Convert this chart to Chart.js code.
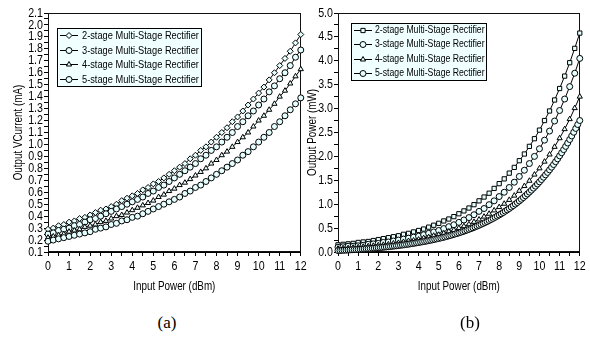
<!DOCTYPE html>
<html>
<head>
<meta charset="utf-8">
<script src="https://cdn.jsdelivr.net/npm/chart.js@4.4.0/dist/chart.umd.min.js"></script>
<style>
  html, body { margin: 0; padding: 0; background: #fff; }
  #page { position: relative; width: 590px; height: 341px; overflow: hidden; }
  canvas { position: absolute; top: 0; }
  #chartA { left: 0; }
  #chartB { left: 295px; }
  .caption {
    position: absolute; top: 313px; width: 60px; text-align: center;
    font-family: 'Liberation Serif', 'Times New Roman', serif; font-size: 17px; line-height: 20px;
  }
</style>
</head>
<body>
<div id="page">
  <canvas id="chartA" width="311" height="300"></canvas>
  <canvas id="chartB" width="295" height="300"></canvas>
  <div class="caption" style="left:137px">(a)</div>
  <div class="caption" style="left:440px">(b)</div>
</div>
<script>
const stageLabels = [
  "2-stage Multi-Stage Rectifier",
  "3-stage Multi-Stage Rectifier",
  "4-stage Multi-Stage Rectifier",
  "5-stage Multi-Stage Rectifier"
];

// input power (dBm)
const powerQuarter = [0,0.25,0.5,0.75,1,1.25,1.5,1.75,2,2.25,2.5,2.75,3,3.25,3.5,3.75,4,4.25,4.5,4.75,5,5.25,5.5,5.75,6,6.25,6.5,6.75,7,7.25,7.5,7.75,8,8.25,8.5,8.75,9,9.25,9.5,9.75,10,10.25,10.5,10.75,11,11.25,11.5,11.75,12];
const powerTenth = [0,0.1,0.2,0.3,0.4,0.5,0.6,0.7,0.8,0.9,1,1.1,1.2,1.3,1.4,1.5,1.6,1.7,1.8,1.9,2,2.1,2.2,2.3,2.4,2.5,2.6,2.7,2.8,2.9,3,3.1,3.2,3.3,3.4,3.5,3.6,3.7,3.8,3.9,4,4.1,4.2,4.3,4.4,4.5,4.6,4.7,4.8,4.9,5,5.1,5.2,5.3,5.4,5.5,5.6,5.7,5.8,5.9,6,6.1,6.2,6.3,6.4,6.5,6.6,6.7,6.8,6.9,7,7.1,7.2,7.3,7.4,7.5,7.6,7.7,7.8,7.9,8,8.1,8.2,8.3,8.4,8.5,8.6,8.7,8.8,8.9,9,9.1,9.2,9.3,9.4,9.5,9.6,9.7,9.8,9.9,10,10.1,10.2,10.3,10.4,10.5,10.6,10.7,10.8,10.9,11,11.1,11.2,11.3,11.4,11.5,11.6,11.7,11.8,11.9,12];

// (a) output current (mA)
const current2 = [0.29,0.30,0.32,0.33,0.35,0.36,0.38,0.39,0.41,0.43,0.45,0.46,0.48,0.50,0.53,0.55,0.57,0.59,0.62,0.64,0.67,0.69,0.72,0.75,0.78,0.81,0.84,0.88,0.91,0.95,0.98,1.02,1.06,1.10,1.14,1.19,1.23,1.28,1.33,1.38,1.43,1.48,1.54,1.60,1.66,1.72,1.78,1.85,1.92];
const current3 = [0.25,0.26,0.28,0.29,0.30,0.32,0.33,0.35,0.37,0.38,0.40,0.42,0.44,0.46,0.48,0.50,0.52,0.54,0.56,0.59,0.61,0.64,0.66,0.69,0.72,0.75,0.78,0.81,0.84,0.88,0.91,0.95,0.98,1.02,1.06,1.10,1.15,1.19,1.24,1.28,1.33,1.38,1.44,1.49,1.55,1.60,1.66,1.73,1.79];
const current4 = [0.22,0.23,0.24,0.25,0.27,0.28,0.29,0.31,0.32,0.33,0.35,0.36,0.38,0.40,0.41,0.43,0.45,0.47,0.49,0.51,0.53,0.56,0.58,0.61,0.63,0.66,0.68,0.71,0.74,0.77,0.80,0.84,0.87,0.91,0.94,0.98,1.02,1.06,1.10,1.15,1.20,1.24,1.29,1.34,1.40,1.45,1.51,1.57,1.63];
const current5 = [0.19,0.20,0.21,0.22,0.23,0.24,0.25,0.26,0.27,0.29,0.30,0.31,0.33,0.34,0.36,0.37,0.39,0.40,0.42,0.44,0.46,0.48,0.50,0.52,0.54,0.56,0.59,0.61,0.64,0.66,0.69,0.72,0.75,0.78,0.81,0.84,0.87,0.91,0.94,0.98,1.02,1.06,1.10,1.15,1.19,1.24,1.29,1.34,1.39];

// (b) output power (mW)
const outPower2 = [0.15,0.16,0.17,0.18,0.20,0.21,0.22,0.24,0.26,0.28,0.30,0.32,0.34,0.37,0.39,0.42,0.45,0.48,0.52,0.56,0.60,0.65,0.69,0.74,0.80,0.86,0.92,0.99,1.07,1.15,1.23,1.33,1.43,1.53,1.65,1.77,1.91,2.05,2.21,2.37,2.55,2.75,2.95,3.18,3.42,3.68,3.96,4.26,4.58];
const outPower3 = [0.10,0.11,0.12,0.12,0.13,0.14,0.16,0.17,0.18,0.20,0.21,0.23,0.25,0.27,0.29,0.31,0.33,0.36,0.39,0.42,0.45,0.49,0.53,0.57,0.62,0.67,0.72,0.78,0.85,0.91,0.99,1.07,1.16,1.25,1.35,1.46,1.58,1.71,1.85,2.00,2.16,2.34,2.53,2.74,2.96,3.20,3.46,3.74,4.05];
const outPower4 = [0.07,0.08,0.08,0.09,0.10,0.11,0.12,0.13,0.14,0.15,0.16,0.18,0.19,0.21,0.23,0.24,0.26,0.29,0.31,0.34,0.36,0.39,0.43,0.46,0.50,0.54,0.58,0.63,0.68,0.74,0.80,0.87,0.94,1.01,1.09,1.18,1.28,1.38,1.49,1.62,1.75,1.89,2.04,2.20,2.38,2.57,2.78,3.01,3.25];
const outPower5 = [0.030,0.032,0.035,0.037,0.039,0.042,0.044,0.047,0.050,0.052,
  0.055,0.058,0.061,0.064,0.068,0.071,0.074,0.078,0.081,0.085,
  0.089,0.093,0.097,0.102,0.106,0.110,0.115,0.120,0.125,0.130,
  0.135,0.141,0.146,0.152,0.158,0.164,0.171,0.177,0.184,0.191,
  0.198,0.206,0.213,0.221,0.229,0.238,0.246,0.255,0.265,0.274,
  0.284,0.294,0.304,0.315,0.326,0.338,0.349,0.362,0.374,0.387,
  0.400,0.414,0.428,0.443,0.458,0.474,0.490,0.506,0.523,0.541,
  0.559,0.578,0.597,0.617,0.637,0.659,0.680,0.703,0.726,0.750,
  0.775,0.800,0.826,0.854,0.881,0.910,0.940,0.971,1.002,1.035,
  1.068,1.103,1.139,1.176,1.214,1.253,1.293,1.335,1.378,1.422,
  1.468,1.515,1.564,1.614,1.665,1.719,1.774,1.830,1.889,1.949,
  2.012,2.076,2.142,2.210,2.280,2.353,2.428,2.505,2.585,2.667,
  2.751];

const MARK_FILL = "#e6ffff";
const BOX_FILL  = "#f0ffff";
const NARROW    = 0.82;   // no Arial Narrow here, so squeeze the text a bit

Chart.defaults.font.family = "'Liberation Sans', Arial, sans-serif";
Chart.defaults.font.size = 12;
Chart.defaults.color = "#000";

// condensed text on the chart canvases (keeps the anchor point in place)
function narrowText (canvas) {
  let ctx = canvas.getContext("2d");
  let fill = ctx.fillText.bind(ctx);
  ctx.fillText = function (text, x, y, maxWidth) {
    this.save();
    this.translate(x, y);
    this.scale(NARROW, 1);
    fill(text, 0, 0);
    this.restore();
  };
  return canvas;
}

function pts (xs, ys) {
  return xs.map((x, i) => ({ x: x, y: ys[i] }));
}

function series (label, xs, ys, style, n) {
  return {
    label: label,
    data: pts(xs, ys),
    pointStyle: style,
    pointRadius: 3,
    pointBorderWidth: 1,
    pointBackgroundColor: MARK_FILL,
    pointBorderColor: "#000",
    borderColor: "#000",
    borderWidth: 1,
    tension: 0,
    clip: false,
    order: 4 - n
  };
}

const frame = {
  id: "frame",
  beforeDatasetsDraw (chart) {
    let { ctx, chartArea } = chart;
    let l = Math.round(chartArea.left) + 0.5;
    let t = Math.round(chartArea.top) + 0.5;
    let r = Math.round(chartArea.right) - 0.5;
    let b = Math.round(chartArea.bottom) - 0.5;
    ctx.save();
    ctx.strokeStyle = "#111";
    ctx.lineWidth = 1;
    ctx.strokeRect(l, t, r - l, b - t);
    ctx.restore();
  }
};

const legendBox = {
  id: "legendBox",
  afterDatasetsDraw (chart, args, o) {
    let ctx = chart.ctx;
    ctx.save();
    ctx.fillStyle = BOX_FILL;
    ctx.fillRect(o.x, o.y, o.w, o.h);
    ctx.strokeStyle = "#000";
    ctx.lineWidth = 1;
    ctx.strokeRect(o.x + 0.5, o.y + 0.5, o.w, o.h);
    ctx.font = o.font;
    ctx.textBaseline = "middle";
    chart.data.datasets.forEach((ds, i) => {
      let cy = Math.round(o.y + o.first + i * o.row) + 0.5;
      ctx.strokeStyle = "#000";
      ctx.beginPath();
      ctx.moveTo(o.x + 3, cy);
      ctx.lineTo(o.x + 21, cy);
      ctx.stroke();
      ctx.fillStyle = MARK_FILL;
      Chart.helpers.drawPoint(ctx, { pointStyle: ds.pointStyle, radius: 3, borderWidth: 1, rotation: 0 }, o.x + 12, cy);
      ctx.fillStyle = "#000";
      ctx.fillText(ds.label, o.x + o.text, cy);
    });
    ctx.restore();
  }
};

function axes (yMin, yMax, yStep, yTitle, yWidth, titlePad) {
  return {
    x: {
      type: "linear", min: 0, max: 12,
      afterFit: (s) => { s.height = 48; },
      ticks: {
        stepSize: 0.5, autoSkip: false, maxRotation: 0, padding: 3,
        font: { size: 13 },
        callback: (v) => Number.isInteger(v) ? String(v) : ""
      },
      grid: { drawOnChartArea: false, tickLength: 4, tickColor: "#000" },
      border: { color: "#000" },
      title: { display: true, text: "Input Power (dBm)", padding: { top: 0, bottom: 6 } }
    },
    y: {
      type: "linear", min: yMin, max: yMax,
      afterFit: (s) => { s.width = yWidth; },
      ticks: {
        stepSize: yStep, autoSkip: false, padding: 1,
        font: { size: 13 },
        callback: (v) => Math.round(v / yStep) % 2 === 0 ? v.toFixed(1) : ""
      },
      grid: { drawOnChartArea: false, tickLength: 4, tickColor: "#000" },
      border: { color: "#000" },
      title: { display: true, text: yTitle, padding: { top: titlePad, bottom: 0 } }
    }
  };
}

let chartA = new Chart(narrowText(document.getElementById("chartA")), {
  type: "line",
  data: {
    datasets: [
      series(stageLabels[0], powerQuarter, current2, "rectRot", 0),
      series(stageLabels[1], powerQuarter, current3, "circle", 1),
      series(stageLabels[2], powerQuarter, current4, "triangle", 2),
      series(stageLabels[3], powerQuarter, current5, "circle", 3)
    ]
  },
  options: {
    responsive: false,
    animation: false,
    devicePixelRatio: 1,
    layout: { padding: { left: 0, top: 13, right: 10, bottom: 0 } },
    scales: axes(0.1, 2.1, 0.05, "Output VCurrent (mA)", 48, 11),
    plugins: {
      legend: { display: false },
      tooltip: { enabled: false },
      legendBox: { x: 57, y: 28, w: 144, h: 58, first: 7, row: 14.5, text: 25, font: "11.3px 'Liberation Sans', Arial, sans-serif" }
    }
  },
  plugins: [frame, legendBox]
});

let chartB = new Chart(narrowText(document.getElementById("chartB")), {
  type: "line",
  data: {
    datasets: [
      series(stageLabels[0], powerQuarter, outPower2, "rect", 0),
      series(stageLabels[1], powerQuarter, outPower3, "circle", 1),
      series(stageLabels[2], powerQuarter, outPower4, "triangle", 2),
      series(stageLabels[3], powerTenth, outPower5, "circle", 3)
    ]
  },
  options: {
    responsive: false,
    animation: false,
    devicePixelRatio: 1,
    layout: { padding: { left: 0, top: 13, right: 9, bottom: 0 } },
    scales: axes(0, 5, 0.25, "Output Power (mW)", 43, 10),
    plugins: {
      legend: { display: false },
      tooltip: { enabled: false },
      legendBox: { x: 56, y: 23, w: 135, h: 57, first: 7, row: 14.3, text: 24, font: "10.6px 'Liberation Sans', Arial, sans-serif" }
    }
  },
  plugins: [frame, legendBox]
});
</script>
</body>
</html>
